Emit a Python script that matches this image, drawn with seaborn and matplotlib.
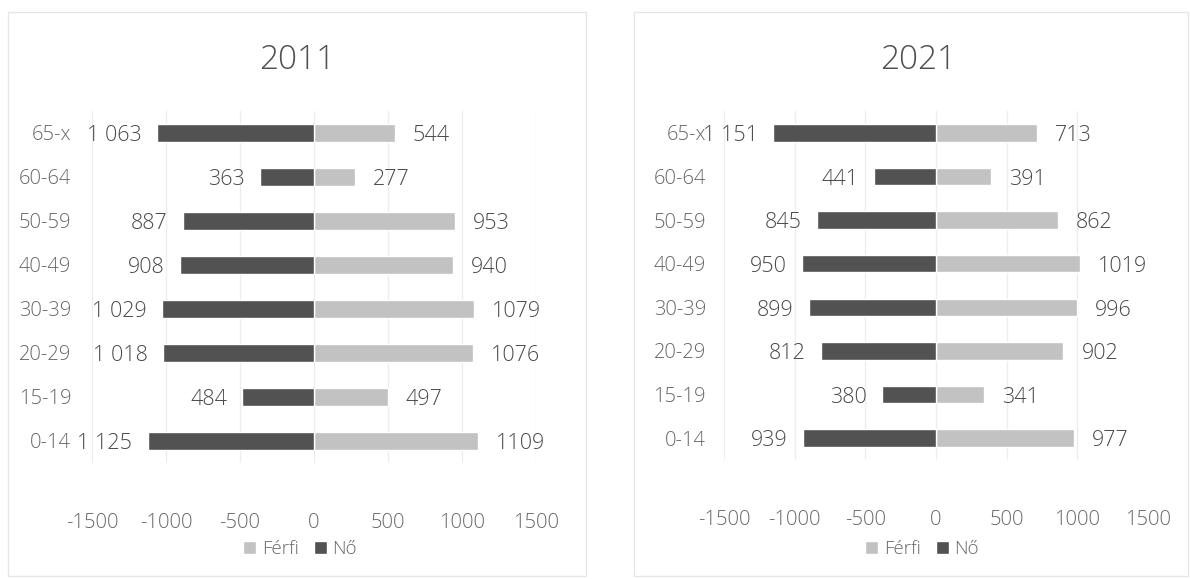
import matplotlib
matplotlib.use("Agg")
import matplotlib.pyplot as plt
import seaborn as sns
import pandas as pd
from matplotlib.patches import Rectangle

categories = ["65-x", "60-64", "50-59", "40-49", "30-39", "20-29", "15-19", "0-14"]
ferfi_2011 = [544, 277, 953, 940, 1079, 1076, 497, 1109]
no_2011 = [1063, 363, 887, 908, 1029, 1018, 484, 1125]
ferfi_2021 = [713, 391, 862, 1019, 996, 902, 341, 977]
no_2021 = [1151, 441, 845, 950, 899, 812, 380, 939]
titles = ["2011", "2021"]
x_ticks = [-1500, -1000, -500, 0, 500, 1000, 1500]

sns.set_theme(style="white")
plt.rcParams["font.family"] = ["Open Sans", "DejaVu Sans"]
plt.rcParams["font.weight"] = "light"

LIGHT = "#c2c2c2"
DARK = "#525252"
TXT = "#666666"
VAL = "#4a4a4a"

fig = plt.figure(figsize=(11.9, 5.79), dpi=100)
fig.patch.set_facecolor("white")

# chart frames
for (x0, x1) in [(8, 586), (634, 1188)]:
    fig.patches.append(Rectangle((x0 / 1190, 1 - 576 / 579), (x1 - x0) / 1190, (576 - 12) / 579,
                                 transform=fig.transFigure, fill=False, edgecolor="#e6e6e6", lw=1.0))

axes_pos = [[92 / 1190, 1 - 463 / 579, 444 / 1190, 352 / 579],
            [724 / 1190, 1 - 460 / 579, 424 / 1190, 349 / 579]]
title_x = [297 / 1190, 918 / 1190]
legend_x = [300 / 1190, 922 / 1190]
ypad = [15, 13]

datasets = [(ferfi_2011, no_2011), (ferfi_2021, no_2021)]

for k in range(2):
    ferfi, no = datasets[k]
    ax = fig.add_axes(axes_pos[k])
    df = pd.DataFrame({
        "age": categories + categories,
        "value": list(ferfi) + [-v for v in no],
        "sex": ["Férfi"] * len(categories) + ["Nő"] * len(categories),
    })
    sns.barplot(data=df, x="value", y="age", hue="sex", order=categories,
                hue_order=["Férfi", "Nő"], palette={"Férfi": LIGHT, "Nő": DARK},
                dodge=False, width=0.4, orient="h", ax=ax, saturation=1, legend=False)
    ax.set_xlim(-1500, 1500)
    ax.set_ylim(len(categories) - 0.5, -0.5)
    ax.set_xticks(x_ticks)
    ax.set_xticklabels([str(t) for t in x_ticks])
    ax.set_xlabel("")
    ax.set_ylabel("")
    for s in ax.spines.values():
        s.set_visible(False)
    ax.xaxis.grid(True, color="#ededed", lw=0.9)
    ax.set_axisbelow(True)
    ax.tick_params(axis="x", length=0, pad=36, labelsize=14.5, labelcolor=TXT)
    ax.tick_params(axis="y", length=0, pad=ypad[k], labelsize=14.5, labelcolor=TXT)

    for i in range(len(categories)):
        ax.annotate(str(ferfi[i]), xy=(ferfi[i], i), xytext=(13, -2), textcoords="offset points",
                    ha="left", va="center", fontsize=15.5, color=VAL)
        ax.annotate(f"{no[i]:,}".replace(",", " "), xy=(-no[i], i), xytext=(-11, -2),
                    textcoords="offset points", ha="right", va="center", fontsize=15.5, color=VAL)

    fig.text(title_x[k], 1 - 60 / 579, titles[k], ha="center", va="center", fontsize=24, color="#505050")

    handles = [Rectangle((0, 0), 1, 1, facecolor=LIGHT), Rectangle((0, 0), 1, 1, facecolor=DARK)]
    ax.legend(handles, ["Férfi", "Nő"], loc="center", bbox_to_anchor=(legend_x[k], 1 - 549 / 579),
              bbox_transform=fig.transFigure, ncol=2, frameon=False, fontsize=13.5,
              handlelength=0.7, handleheight=0.7, columnspacing=0.8, handletextpad=0.3,
              labelcolor=TXT)

fig.savefig("out.png", dpi=100, facecolor="white")
